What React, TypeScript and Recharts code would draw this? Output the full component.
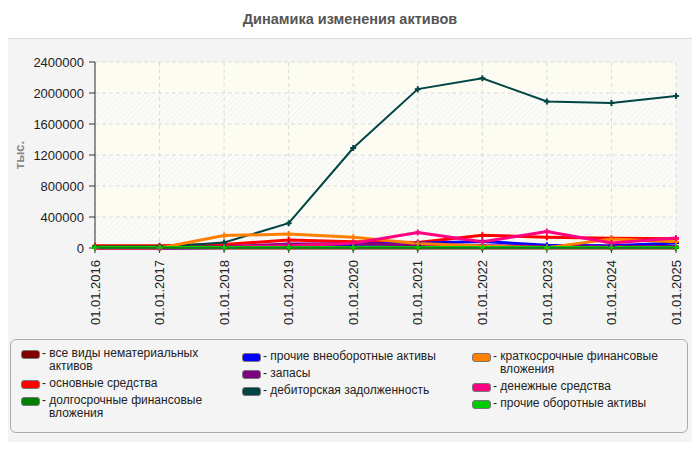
import { LineChart, Line, XAxis, YAxis, CartesianGrid } from "recharts"

const DATES = [
  "01.01.2016", "01.01.2017", "01.01.2018", "01.01.2019", "01.01.2020",
  "01.01.2021", "01.01.2022", "01.01.2023", "01.01.2024", "01.01.2025",
]

// тыс. руб.
const INTANGIBLE = [0, 0, 0, 0, 0, 0, 0, 0, 0, 0]
const FIXED_ASSETS = [30000, 30000, 45000, 103000, 82000, 70000, 166000, 140000, 127000, 120000]
const LONG_FIN = [14000, 14000, 14000, 14000, 14000, 14000, 14000, 14000, 14000, 14000]
const OTHER_NONCURRENT = [0, 0, 5000, 20000, 48000, 60000, 85000, 35000, 30000, 65000]
const INVENTORY = [0, 0, 15000, 52000, 55000, 40000, 30000, 20000, 20000, 20000]
const RECEIVABLES = [15000, 15000, 70000, 320000, 1290000, 2050000, 2190000, 1890000, 1870000, 1960000]
const SHORT_FIN = [0, 0, 160000, 180000, 138000, 58000, 25000, 5000, 115000, 80000]
const CASH = [0, 0, 10000, 30000, 60000, 200000, 80000, 212000, 65000, 130000]
const OTHER_CURRENT = [8000, 8000, 8000, 8000, 8000, 8000, 8000, 8000, 8000, 8000]

const Y_TICKS = [0, 400000, 800000, 1200000, 1600000, 2000000, 2400000]

const SERIES = [
  { key: "intangible", name: "все виды нематериальных активов", color: "#800000", values: INTANGIBLE },
  { key: "fixed", name: "основные средства", color: "#ff0000", values: FIXED_ASSETS },
  { key: "longFin", name: "долгосрочные финансовые вложения", color: "#008000", values: LONG_FIN },
  { key: "otherNon", name: "прочие внеоборотные активы", color: "#0000ff", values: OTHER_NONCURRENT },
  { key: "inventory", name: "запасы", color: "#800080", values: INVENTORY },
  { key: "receivables", name: "дебиторская задолженность", color: "#004444", values: RECEIVABLES },
  { key: "shortFin", name: "краткосрочные финансовые вложения", color: "#ff8000", values: SHORT_FIN },
  { key: "cash", name: "денежные средства", color: "#ff0080", values: CASH },
  { key: "otherCur", name: "прочие оборотные активы", color: "#00cc00", values: OTHER_CURRENT },
]

const data = DATES.map((date, i) => {
  const row: Record<string, string | number> = { date }
  SERIES.forEach((s) => (row[s.key] = s.values[i]))
  return row
})

const FONT = '"Liberation Sans", Arial, sans-serif'

// wrap legend labels the way the original does (about 28 chars per line)
const wrapLabel = (text: string, max = 28) => {
  const lines: string[] = []
  let cur = ""
  text.split(" ").forEach((w) => {
    const next = cur ? cur + " " + w : w
    if (next.length > max && cur) {
      lines.push(cur)
      cur = w
    } else cur = next
  })
  if (cur) lines.push(cur)
  return lines
}

const Cross = (props: any) => {
  const { cx, cy, stroke, index } = props
  if (cx == null || cy == null) return <g key={index} />
  return (
    <path
      key={index}
      d={`M${cx - 3},${cy}H${cx + 3}M${cx},${cy - 3}V${cy + 3}`}
      stroke={stroke}
      strokeWidth={2}
    />
  )
}

const DateTick = ({ x, y, payload }: any) => (
  <text
    x={x}
    y={y + 5}
    transform={`rotate(-90 ${x} ${y + 5})`}
    textAnchor="end"
    dy="0.36em"
    fontSize={13}
    fill="#222"
    fontFamily={FONT}
  >
    {payload.value}
  </text>
)

const LEGEND_COLS = [[0, 1, 2], [3, 4, 5], [6, 7, 8]]
const COL_LEFT = [21, 242, 472]
const COL_TOP = [347, 350, 350]

export default function App() {
  return (
    <div style={{ position: "relative", width: 700, height: 450, margin: -8, background: "#fff", fontFamily: FONT }}>
      <div
        style={{
          position: "absolute", top: 11, left: 0, width: 700, textAlign: "center",
          fontSize: 14.5, fontWeight: "bold", color: "#555",
        }}
      >
        Динамика изменения активов
      </div>
      <div
        style={{
          position: "absolute", top: 38, left: 1, width: 696, height: 405,
          border: "1px solid #ddd", borderRadius: 8, background: "#f4f4f4",
        }}
      />
      <div style={{ position: "absolute", top: 0, left: 0 }}>
        <LineChart width={700} height={330} data={data} margin={{ top: 62, right: 24, bottom: 7, left: 0 }}>
          <defs>
            <pattern id="hatch" width="4" height="4" patternUnits="userSpaceOnUse" patternTransform="rotate(45)">
              <rect width="4" height="4" fill="#fbfbf8" />
              <line x1="0" y1="0" x2="0" y2="4" stroke="#ececec" strokeWidth="1" />
            </pattern>
          </defs>
          <CartesianGrid
            stroke="#dcdcdc"
            strokeDasharray="4 3"
            horizontalFill={["#fcfcf3", "url(#hatch)"]}
            fillOpacity={1}
          />
          <XAxis
            dataKey="date"
            interval={0}
            height={75}
            tick={<DateTick />}
            tickSize={5}
            stroke="#333"
            axisLine={{ stroke: "#333" }}
            tickLine={{ stroke: "#333" }}
          />
          <YAxis
            width={95}
            domain={[0, 2400000]}
            ticks={Y_TICKS}
            interval={0}
            tickSize={6}
            tickMargin={5}
            tickFormatter={(v) => String(v)}
            tick={{ fontSize: 13, fill: "#222", fontFamily: FONT }}
            axisLine={{ stroke: "#333" }}
            tickLine={{ stroke: "#333" }}
            label={{
              value: "тыс.",
              angle: -90,
              position: "center",
              dx: -28,
              style: { fontSize: 13, fontWeight: "bold", fill: "#888", fontFamily: FONT },
            }}
          />
          {SERIES.map((s) => (
            <Line
              key={s.key}
              dataKey={s.key}
              name={s.name}
              stroke={s.color}
              strokeWidth={s.key === "receivables" ? 2 : 3}
              dot={<Cross />}
              activeDot={false}
              isAnimationActive={false}
            />
          ))}
        </LineChart>
      </div>
      <div
        style={{
          position: "absolute", top: 339, left: 10, width: 676, height: 92,
          border: "1px solid #aaa", borderRadius: 6, background: "#f4f4f4",
        }}
      />
      {LEGEND_COLS.map((col, ci) => (
        <div key={ci} style={{ position: "absolute", top: COL_TOP[ci], left: COL_LEFT[ci], width: 215 }}>
          {col.map((si) => {
            const s = SERIES[si]
            return (
              <div key={s.key} style={{ display: "flex", alignItems: "flex-start", marginBottom: 4 }}>
                <div
                  style={{
                    width: 17, height: 7, marginTop: 3, marginRight: 2, flexShrink: 0,
                    background: s.color, border: "1px solid #777", borderRadius: 3,
                  }}
                />
                <div style={{ fontSize: 12, color: "#222", whiteSpace: "nowrap" }}>
                  {wrapLabel("- " + s.name).map((line, li) => (
                    <div key={li} style={{ lineHeight: "13px", height: 13, paddingLeft: li ? 7 : 0 }}>
                      {line}
                    </div>
                  ))}
                </div>
              </div>
            )
          })}
        </div>
      ))}
    </div>
  )
}
